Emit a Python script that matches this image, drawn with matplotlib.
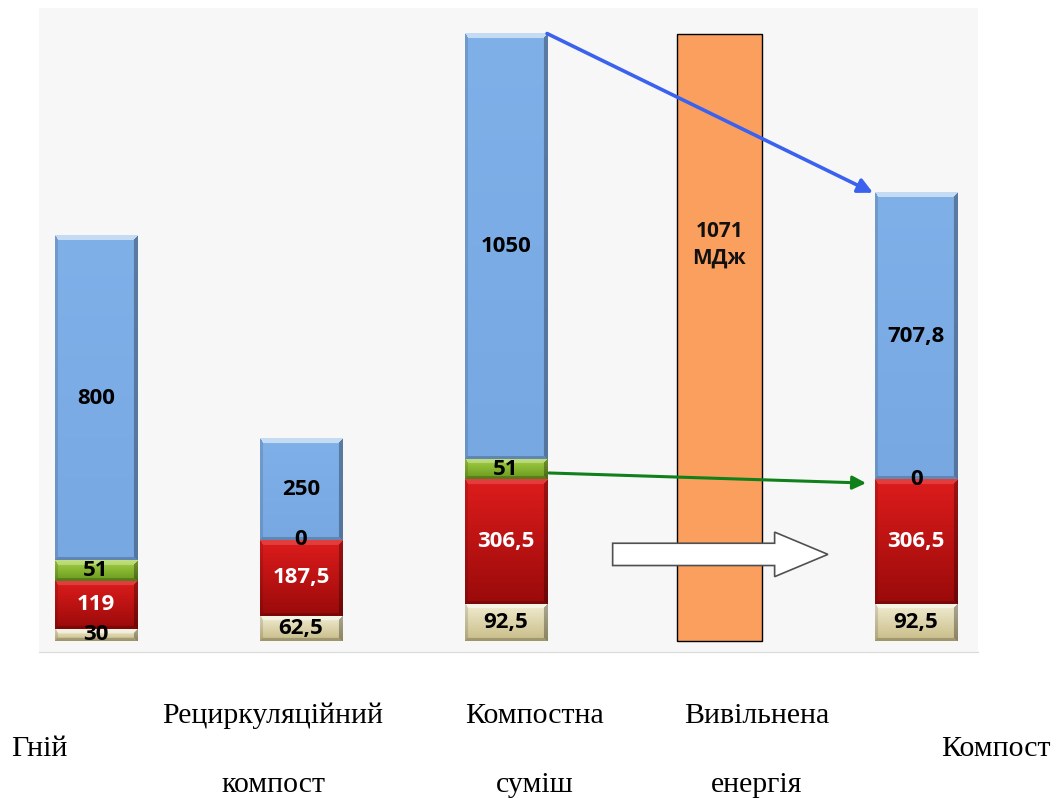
import numpy as np
import matplotlib
matplotlib.use('Agg')
import matplotlib.pyplot as plt
import matplotlib.colors as mcolors
from matplotlib.patches import FancyArrow

# categories along the bottom and stacked components of each bar
categories = ['Гній', 'Рециркуляційний\nкомпост', 'Компостна\nсуміш',
              'Вивільнена\nенергія', 'Компост']
bar_x = [0, 1, 2, 4]
beige_part = [30, 62.5, 92.5, 92.5]
red_part = [119, 187.5, 306.5, 306.5]
green_part = [51, 0, 51, 0]
blue_part = [800, 250, 1050, 707.8]

energy_x = 3.04
energy_text = '1071\nМДж'

W_PX, H_PX = 1062, 798


def fmt(v):
    return f'{v:g}'.replace('.', ',')


def paint_bevel(ax, rect, c_top, c_bot, shine, widths=(5, 4, 3, 3)):
    # fill a bar segment with a vertical gradient and bevelled edges
    x0, y0 = rect.get_x(), rect.get_y()
    x1, y1 = x0 + rect.get_width(), y0 + rect.get_height()
    (px0, py0), (px1, py1) = ax.transData.transform([(x0, y0), (x1, y1)])
    w = max(int(round(px1 - px0)), 2)
    h = max(int(round(py1 - py0)), 2)
    t = np.linspace(0, 1, h)[:, None, None]
    img = (1 - t) * np.array(mcolors.to_rgb(c_top)) + t * np.array(mcolors.to_rgb(c_bot))
    img = np.broadcast_to(img, (h, w, 3)).copy()
    yy, xx = np.mgrid[0:h, 0:w]
    d = np.stack([yy / widths[0], (w - 1 - xx) / widths[1],
                  (h - 1 - yy) / widths[2], xx / widths[3]])
    side = d.argmin(0)
    near = d.min(0) < 1
    m = near & (side == 0)
    img[m] = img[m] + (1 - img[m]) * shine
    for k, f in [(1, 0.7), (2, 0.8), (3, 0.88)]:
        m = near & (side == k)
        img[m] *= f
    ax.imshow(img, extent=(x0, x1, y0, y1), aspect='auto',
              interpolation='bilinear', zorder=2)


fig = plt.figure(figsize=(W_PX / 100, H_PX / 100), dpi=100)
ax = fig.add_axes([39 / W_PX, 1 - 652 / H_PX, (978 - 39) / W_PX, (652 - 8) / H_PX])
ax.set_xlim(-0.278, 4.302)
ax.set_ylim(-27, 1563)
ax.set_facecolor('#f7f7f7')
for s in ['top', 'left', 'right']:
    ax.spines[s].set_visible(False)
ax.spines['bottom'].set_color('#d9d9d9')
ax.set_xticks([])
ax.set_yticks([])

label_font = dict(family=['Open Sans', 'DejaVu Sans'], weight='bold', fontsize=16)

layers = [
    (beige_part, '#f2edd2', '#c8bc88', 0.5, 'black'),
    (red_part, '#de1c1c', '#9a0a0a', 0.15, 'white'),
    (green_part, '#a4d145', '#6a9a1f', 0.3, 'black'),
    (blue_part, '#80b0e8', '#78a8e2', 0.55, 'black'),
]
bottom = np.zeros(len(bar_x))
for vals, c_top, c_bot, shine, txt_c in layers:
    bars = ax.bar(bar_x, vals, width=0.4, bottom=bottom, color='none',
                  edgecolor='none', zorder=2)
    for rect, v in zip(bars, vals):
        if rect.get_height() > 0:
            paint_bevel(ax, rect, c_top, c_bot, shine)
        ax.text(rect.get_x() + rect.get_width() / 2,
                rect.get_y() + rect.get_height() / 2, fmt(v),
                ha='center', va='center', color=txt_c, zorder=6, **label_font)
    bottom += np.array(vals)

totals = bottom

# released energy band
ax.bar(energy_x, totals[2], width=0.415, color='#fb9f5f', edgecolor='black',
       linewidth=1, zorder=2)
ax.text(energy_x, 979, energy_text, ha='center', va='center', linespacing=1.35,
        color='#111111', zorder=6, family=['Open Sans', 'DejaVu Sans'],
        weight='bold', fontsize=15)

# flow arrows
ax.annotate('', xy=(bar_x[3] - 0.21, totals[3]), xytext=(bar_x[2] + 0.2, totals[2]),
            arrowprops=dict(arrowstyle='-|>', color='#3b62ee', lw=2.6,
                            mutation_scale=22, shrinkA=0, shrinkB=0), zorder=7)
ax.annotate('', xy=(3.756, 390), xytext=(2.21, 415),
            arrowprops=dict(arrowstyle='-|>', color='#10801a', lw=2.2,
                            mutation_scale=20, shrinkA=0, shrinkB=0), zorder=7)
ax.add_patch(FancyArrow(2.52, 214, 1.05, 0, width=55, head_width=110,
                        head_length=0.26, length_includes_head=True,
                        facecolor='white', edgecolor='#505050', linewidth=1.2,
                        zorder=5))

# category captions under the plot
label_cx = [39, 273, 534.5, 756.5, 995.5]
for name, cx in zip(categories, label_cx):
    lines = name.split('\n')
    rows = [756] if len(lines) == 1 else [723, 792]
    for line, by in zip(lines, rows):
        fig.text(cx / W_PX, 1 - by / H_PX, line, ha='center', va='baseline',
                 family='Liberation Serif', fontsize=21.5, color='black')

fig.savefig('out.png', dpi=100, facecolor='white')
